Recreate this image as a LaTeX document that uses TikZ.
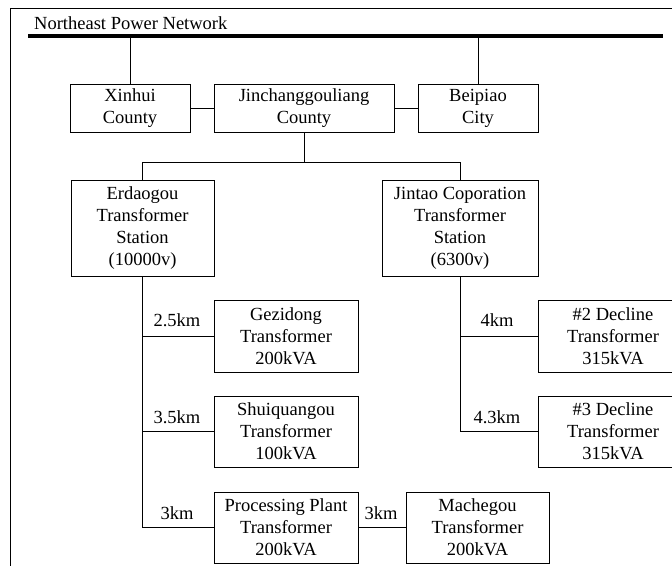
\documentclass[tikz,border=0pt]{standalone}
\usepackage{fontspec}
\setmainfont{Liberation Serif}
\begin{document}
\begin{tikzpicture}[x=1pt,y=-1pt,
  box/.style={draw, line width=0.9pt, inner sep=0pt, align=center, font=\fontsize{18.5}{22}\selectfont},
  lbl/.style={inner sep=0pt, font=\fontsize{18.5}{22}\selectfont},
  wire/.style={line width=0.9pt}]
\useasboundingbox (0,0) rectangle (672,565);
\clip (0,0) rectangle (672,565);
% frame
\draw[line width=1.2pt] (10.7,620) -- (10.7,8.3) -- (720,8.3);
\node[lbl, anchor=west] (title) at (34,23) {Northeast Power Network};
\coordinate (busL) at (28,36);
\coordinate (busR) at (663,36);
\draw[line width=3.2pt] (busL) -- (busR);
% top row
\node[box, minimum width=120pt, minimum height=48pt] (xin) at (130,108) {Xinhui\\County};
\node[box, minimum width=180pt, minimum height=48pt] (jin) at (304,108) {Jinchanggouliang\\County};
\node[box, minimum width=120pt, minimum height=48pt] (bei) at (478,108) {Beipiao\\City};
\draw[wire] (xin.north) -- (xin.north |- busL);
\draw[wire] (bei.north) -- (bei.north |- busL);
\draw[wire] (xin.east) -- (jin.west);
\draw[wire] (jin.east) -- (bei.west);
% stations
\node[box, minimum width=143pt, minimum height=96pt] (erd) at (142.5,228) {Erdaogou\\Transformer\\Station\\(10000v)};
\node[box, minimum width=156pt, minimum height=96pt] (jint) at (460,228) {Jintao Coporation\\Transformer\\Station\\(6300v)};
\coordinate (split) at (304,162);
\draw[wire] (jin.south) -- (split);
\draw[wire] (erd.north) -- (erd.north |- split) -- (jint.north |- split) -- (jint.north);
% left branch
\node[box, minimum width=144pt, minimum height=72pt] (gez) at (286,336) {Gezidong\\Transformer\\200kVA};
\node[box, minimum width=144pt, minimum height=71pt] (shu) at (286,431.5) {Shuiquangou\\Transformer\\100kVA};
\node[box, minimum width=144pt, minimum height=71pt] (pro) at (286,527.5) {Processing Plant\\Transformer\\200kVA};
\node[box, minimum width=143pt, minimum height=71pt] (mac) at (477.5,527.5) {Machegou\\Transformer\\200kVA};
\draw[wire] (erd.south) |- (pro.west);
\draw[wire] (erd.south |- gez.west) -- (gez.west);
\draw[wire] (erd.south |- shu.west) -- (shu.west);
\draw[wire] (pro.east) -- (mac.west);
\node[lbl] (l1) at (177,320) {2.5km};
\node[lbl] (l2) at (177,417) {3.5km};
\node[lbl] (l3) at (177,513) {3km};
\node[lbl] (l4) at (381,513) {3km};
% right branch
\node[box, minimum width=150pt, minimum height=72pt] (d2) at (613,336) {\#2 Decline\\Transformer\\315kVA};
\node[box, minimum width=150pt, minimum height=71pt] (d3) at (613,431.5) {\#3 Decline\\Transformer\\315kVA};
\draw[wire] (jint.south) |- (d3.west);
\draw[wire] (jint.south |- d2.west) -- (d2.west);
\node[lbl] (l5) at (497,320) {4km};
\node[lbl] (l6) at (497,417) {4.3km};
\end{tikzpicture}
\end{document}
